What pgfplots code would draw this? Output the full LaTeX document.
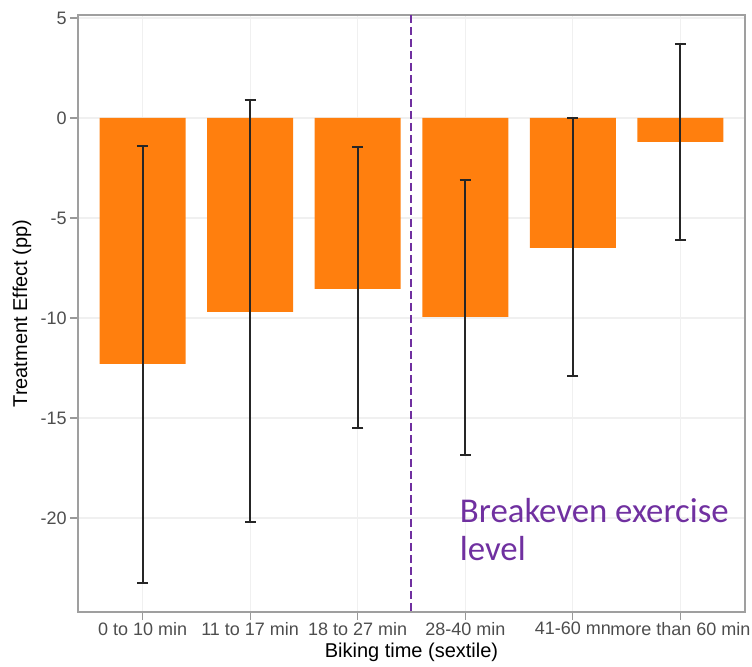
\documentclass[border=0pt]{standalone}
\usepackage{pgfplots}
\pgfplotsset{compat=1.18}
\usepackage{fontspec}
\setmainfont{Liberation Sans}
\newfontfamily\calib{Carlito}
\definecolor{barorange}{HTML}{FF7F0E}
\definecolor{annpurple}{HTML}{7030A0}
\definecolor{tickgray}{HTML}{4D4D4D}
\begin{document}
\begin{tikzpicture}
\begin{axis}[
  name=ax,
  scale only axis,
  width=333.5pt, height=298.5pt,
  xmin=-0.6, xmax=5.6,
  ymin=-24.7, ymax=5.15,
  xtick={0,1,2,3,4,5},
  xticklabels={0 to 10 min,11 to 17 min,18 to 27 min,28-40 min,41-60 mn,more than 60 min},
  ytick={-20,-15,-10,-5,0,5},
  yticklabels={-20,-15,-10,-5,0,5},
  xtick pos=bottom, ytick pos=left,
  tick align=outside,
  major tick length=4pt,
  tick style={gray!80, line width=0.6pt},
  axis line style={gray!75, line width=0.8pt},
  grid=major,
  major grid style={gray!12, line width=0.6pt},
  ticklabel style={font=\fontsize{9}{10}\selectfont, text=tickgray},
  xticklabel style={inner sep=1pt},
  yticklabel style={inner sep=1.5pt},
  xlabel={Biking time (sextile)},
  ylabel={Treatment Effect (pp)},
  label style={font=\fontsize{11}{12}\selectfont},
  every axis x label/.style={at={(axis description cs:0.5,-0.067)}, anchor=center},
  every axis y label/.style={at={(axis description cs:-0.084,0.5)}, anchor=center, rotate=90},
  clip=false,
  axis on top=false,
]
\addplot[ybar, bar width=0.8, fill=barorange, draw=none,
  error bars/.cd, y dir=both, y explicit,
  error bar style={line width=1pt, black!85},
  error mark options={rotate=90, mark size=2.8pt, line width=1pt, black!85}]
  table[x=x, y=y, y error plus=ep, y error minus=em] {
  x y ep em
  0 -12.3 10.9 10.95
  1 -9.7 10.6 10.5
  2 -8.55 7.1 6.95
  3 -9.95 6.85 6.9
  4 -6.5 6.5 6.4
  5 -1.2 4.9 4.9
};
\addplot[annpurple, line width=1pt, dash pattern=on 4pt off 2pt] coordinates {(2.5,5.15) (2.5,-24.7)};
\node[anchor=base west, inner sep=0pt, text=annpurple, font=\calib\fontsize{17.4}{19}\selectfont] at (axis cs:2.946,-20.25) {Breakeven exercise};
\node[anchor=base west, inner sep=0pt, text=annpurple, font=\calib\fontsize{17.4}{19}\selectfont] at (axis cs:2.946,-22.15) {level};
\end{axis}
\path (ax.south west) ++(-39pt,-27.5pt) coordinate (bl);
\path (ax.north east) ++(3.5pt,7.5pt) coordinate (tr);
\pgfresetboundingbox
\path (bl) rectangle (tr);
\end{tikzpicture}
\end{document}
